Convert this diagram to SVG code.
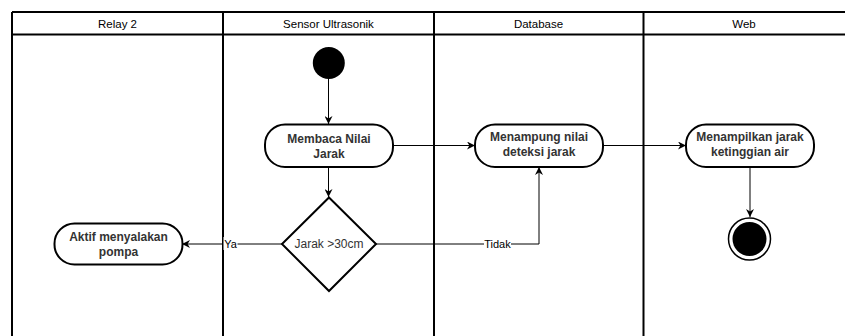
<svg xmlns="http://www.w3.org/2000/svg" width="845" height="336" viewBox="0 0 845 336">
<style>
.lane{fill:none;stroke:#000;stroke-width:2}
.hd{font-family:"Liberation Sans",Arial,sans-serif;font-size:11.5px;fill:#000;text-anchor:middle}
.box{fill:#fff;stroke:#000;stroke-width:2}
.t{font-family:"Liberation Sans",Arial,sans-serif;font-size:12px;font-weight:bold;fill:#333;text-anchor:middle}
.c{fill:none;stroke:#000;stroke-width:1}
.lb{font-family:"Liberation Sans",Arial,sans-serif;font-size:11px;fill:#000;text-anchor:middle}
</style>
<defs>
<marker id="ah" viewBox="0 0 10 10" refX="10" refY="5" markerWidth="8" markerHeight="8" markerUnits="userSpaceOnUse" orient="auto">
<path d="M0,0 L10,5 L0,10 L3,5 z" fill="#000"/>
</marker>
</defs>
<rect width="845" height="336" fill="#fff"/>
<g id="lanes">
<line class="lane" x1="12" y1="12" x2="845" y2="12"/>
<line class="lane" x1="12" y1="34.5" x2="845" y2="34.5"/>
<line class="lane" x1="12" y1="12" x2="12" y2="336"/>
<line class="lane" x1="223" y1="12" x2="223" y2="336"/>
<line class="lane" x1="434" y1="12" x2="434" y2="336"/>
<line class="lane" x1="643.5" y1="12" x2="643.5" y2="336"/>
<text class="hd" x="117.5" y="27.5">Relay 2</text>
<text class="hd" x="328.5" y="27.5">Sensor Ultrasonik</text>
<text class="hd" x="538.5" y="27.5">Database</text>
<text class="hd" x="744" y="27.5">Web</text>
</g>
<g id="connectors">
<line class="c" x1="328.5" y1="79" x2="328.5" y2="124" marker-end="url(#ah)"/>
<line class="c" x1="328.5" y1="167" x2="328.5" y2="197" marker-end="url(#ah)"/>
<line class="c" x1="393" y1="145.5" x2="475" y2="145.5" marker-end="url(#ah)"/>
<line class="c" x1="603" y1="145.5" x2="686" y2="145.5" marker-end="url(#ah)"/>
<line class="c" x1="750" y1="167" x2="750" y2="217" marker-end="url(#ah)"/>
<line class="c" x1="282" y1="244" x2="182" y2="244" marker-end="url(#ah)"/>
<polyline class="c" points="376,244 539,244 539,167" marker-end="url(#ah)"/>
<rect x="223.5" y="237" width="14" height="13" fill="#fff"/>
<text class="lb" x="230.5" y="248">Ya</text>
<rect x="484" y="237" width="27" height="13" fill="#fff"/>
<text class="lb" x="497.5" y="248">Tidak</text>
</g>
<g id="start"><circle cx="328.8" cy="63" r="16" fill="#000"/></g>
<g id="membaca">
<rect class="box" x="265" y="124.5" width="128" height="42.5" rx="20" ry="20"/>
<text class="t" x="329" y="143">Membaca Nilai</text>
<text class="t" x="329" y="158">Jarak</text>
</g>
<g id="decision">
<polygon class="box" points="329,197.5 376,244 329,291 282,244"/>
<text class="t" x="329" y="248" style="font-weight:normal">Jarak &gt;30cm</text>
</g>
<g id="aktif">
<rect class="box" x="54.5" y="223.5" width="128" height="41" rx="20" ry="20"/>
<text class="t" x="118.5" y="241">Aktif menyalakan</text>
<text class="t" x="118.5" y="256">pompa</text>
</g>
<g id="menampung">
<rect class="box" x="475" y="124.5" width="128" height="42.5" rx="20" ry="20"/>
<text class="t" x="539" y="141">Menampung nilai</text>
<text class="t" x="539" y="156">deteksi jarak</text>
</g>
<g id="menampilkan">
<rect class="box" x="686" y="124.5" width="128" height="42.5" rx="20" ry="20"/>
<text class="t" x="750" y="141">Menampilkan jarak</text>
<text class="t" x="750" y="156">ketinggian air</text>
</g>
<g id="end">
<circle cx="749.5" cy="239" r="21" fill="#fff" stroke="#000" stroke-width="1.5"/>
<circle cx="749.5" cy="239" r="17" fill="#000"/>
</g>
</svg>
